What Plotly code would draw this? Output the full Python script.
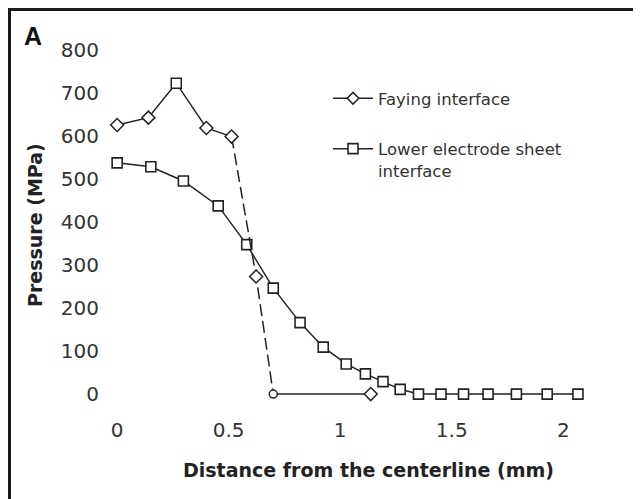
import plotly.graph_objects as go

# ---- data ----
faying_x = [0.0, 0.14, 0.265, 0.40, 0.513, 0.623, 0.70, 1.137]
faying_y = [625, 642, 722, 618, 598, 273, 0, 0]
faying_symbols = ["diamond", "diamond", "square", "diamond",
                  "diamond", "diamond", "circle", "diamond"]

lower_x = [0.0, 0.151, 0.297, 0.453, 0.581, 0.70, 0.82, 0.924, 1.027, 1.113,
           1.192, 1.269, 1.351, 1.452, 1.553, 1.663, 1.79, 1.928, 2.066]
lower_y = [537, 528, 495, 437, 347, 246, 166, 109, 70, 47,
           29, 11, 0, 0, 0, 0, 0, 0, 0]

x_ticks = [0, 0.5, 1, 1.5, 2]
x_ticklabels = ["0", "0.5", "1", "1.5", "2"]
y_ticks = [0, 100, 200, 300, 400, 500, 600, 700, 800]

name_faying = "Faying interface"
name_lower = "Lower electrode sheet<br>interface"

INK = "#222222"
FONT = "DejaVu Sans, Verdana, sans-serif"

# page body has an 8px margin -> compensate
OFF = 8
W, H = 641 - OFF, 499 - OFF
L = 106 - OFF
T = 41 - OFF
plot_right = 590 - OFF
plot_bottom = 407 - OFF
R = W - plot_right
B = H - plot_bottom
pw = W - L - R
ph = H - T - B


def px_x(p):
    return (p - OFF - L) / pw


def px_y(p):
    return (plot_bottom - (p - OFF)) / ph


fig = go.Figure()

# lower electrode / sheet interface (solid)
fig.add_trace(go.Scatter(
    x=lower_x, y=lower_y, mode="lines+markers", name=name_lower,
    line=dict(color=INK, width=1.5),
    marker=dict(symbol="square", size=10, color="white", line=dict(color=INK, width=1.6)),
    legendgroup="b", legendrank=2,
))

# faying interface: solid first part, dashed drop, solid tail
seg1 = slice(0, 5)
seg2 = slice(4, 7)
seg3 = slice(6, 8)
fig.add_trace(go.Scatter(
    x=faying_x[seg2], y=faying_y[seg2], mode="lines", showlegend=False,
    line=dict(color=INK, width=1.5, dash="12px,5px"),
))
fig.add_trace(go.Scatter(
    x=faying_x[seg3], y=faying_y[seg3], mode="lines", showlegend=False,
    line=dict(color=INK, width=1.5),
))
fig.add_trace(go.Scatter(
    x=faying_x[seg1], y=faying_y[seg1], mode="lines", showlegend=False,
    line=dict(color=INK, width=1.5),
))
fig.add_trace(go.Scatter(
    x=faying_x, y=faying_y, mode="markers", name=name_faying,
    marker=dict(symbol=faying_symbols, size=[10, 10, 10, 10, 10, 10, 8, 10],
                opacity=1, color="white", line=dict(color=INK, width=1.5)),
    showlegend=False,
))
# legend entry for faying (line + diamond)
fig.add_trace(go.Scatter(
    x=[None], y=[None], mode="lines+markers", name=name_faying,
    line=dict(color=INK, width=1.5),
    marker=dict(symbol="diamond", size=9, color="white", line=dict(color=INK, width=1.5)),
    legendgroup="a", legendrank=1,
))

fig.update_layout(
    width=W, height=H,
    margin=dict(l=L, r=R, t=T, b=B, pad=0),
    paper_bgcolor="white", plot_bgcolor="white",
    font=dict(family=FONT, color=INK),
    xaxis=dict(range=[-0.05, 2.12], tickvals=x_ticks, ticktext=x_ticklabels,
               showgrid=False, zeroline=False, showline=False,
               ticks="outside", ticklen=5, tickcolor="rgba(0,0,0,0)",
               tickfont=dict(size=20, color="#333333", family=FONT)),
    yaxis=dict(range=[-30, 820], tickvals=y_ticks,
               showgrid=False, zeroline=False, showline=False,
               ticks="outside", ticklen=2, tickcolor="rgba(0,0,0,0)",
               tickfont=dict(size=20, color="#333333", family=FONT)),
    legend=dict(x=px_x(328), y=px_y(81), xanchor="left", yanchor="top",
                bgcolor="rgba(0,0,0,0)", font=dict(size=16.5, color="#333333", family=FONT),
                traceorder="grouped", tracegroupgap=26, valign="top",
                itemwidth=40),
    showlegend=True,
    annotations=[
        dict(text="<b>A</b>", xref="paper", yref="paper", x=px_x(33), y=px_y(36),
             xanchor="center", yanchor="middle", showarrow=False,
             font=dict(size=25, color="#111111", family="Liberation Sans, Arial, sans-serif")),
        dict(text="<b>Pressure (MPa)</b>", xref="paper", yref="paper",
             x=px_x(35), y=px_y(225), textangle=-90, xanchor="center", yanchor="middle",
             showarrow=False, font=dict(size=19, color=INK, family=FONT)),
        dict(text="<b>Distance from the centerline (mm)</b>", xref="paper", yref="paper",
             x=px_x(368), y=px_y(470), xanchor="center", yanchor="middle",
             showarrow=False, font=dict(size=19, color=INK, family=FONT)),
    ],
    shapes=[
        dict(type="line", xref="paper", yref="paper", x0=px_x(8), x1=px_x(660),
             y0=px_y(9.5), y1=px_y(9.5), line=dict(color="#1a1a1a", width=3)),
        dict(type="line", xref="paper", yref="paper", x0=px_x(9.5), x1=px_x(9.5),
             y0=px_y(8), y1=px_y(520), line=dict(color="#1a1a1a", width=3)),
    ],
)

fig.write_html("out.html")
